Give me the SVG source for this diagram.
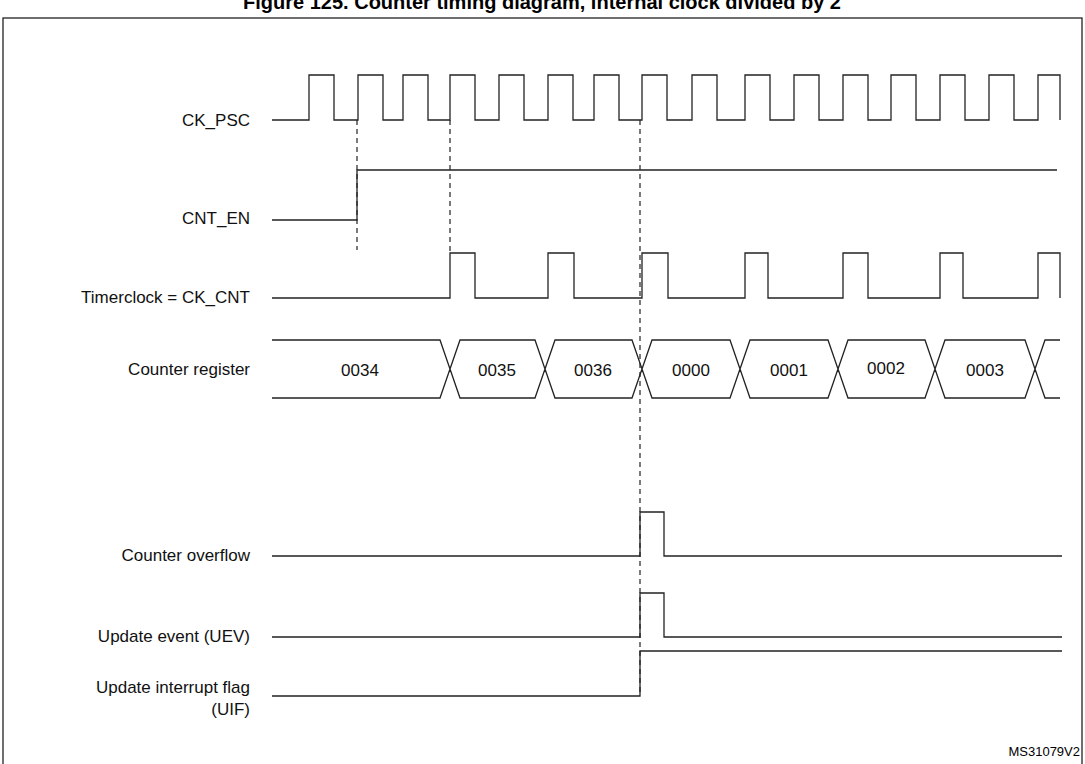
<svg xmlns="http://www.w3.org/2000/svg" width="1085" height="764" viewBox="0 0 1085 764">
<style>
.s{fill:none;stroke:#222;stroke-width:1.3}
.d{fill:none;stroke:#222;stroke-width:1.2;stroke-dasharray:5,4}
.l{font-family:"Liberation Sans",Arial,sans-serif;font-size:17px;fill:#111;text-anchor:end}
.v{font-family:"Liberation Sans",Arial,sans-serif;font-size:17px;fill:#111;text-anchor:middle}
</style>
<rect width="1085" height="764" fill="#fff"/>
<text x="542" y="9" font-family="Liberation Sans,Arial,sans-serif" font-size="20" font-weight="bold" text-anchor="middle">Figure 125. Counter timing diagram, internal clock divided by 2</text>
<rect x="3" y="18" width="1079" height="760" fill="none" stroke="#222" stroke-width="1.3"/>
<g id="labels">
<text class="l" x="250" y="126">CK_PSC</text>
<text class="l" x="250" y="224">CNT_EN</text>
<text class="l" x="250" y="303">Timerclock = CK_CNT</text>
<text class="l" x="250" y="375">Counter register</text>
<text class="l" x="250" y="561">Counter overflow</text>
<text class="l" x="250" y="642">Update event (UEV)</text>
<text class="l" x="250" y="693">Update interrupt flag</text>
<text class="l" x="250" y="715">(UIF)</text>
<text x="1080" y="756" font-family="Liberation Sans,Arial,sans-serif" font-size="13" text-anchor="end">MS31079V2</text>
</g>
<g id="connectors">
<path class="d" d="M357 120V250M450 120V253M640 120V696"/>
</g>
<g id="ck_psc"><path class="s" d="M272 120H309V75H334V120H358V75H383V120H403V75H428V120H450V75H475V120H499V75H524V120H548V75H573V120H594V75H619V120H642V75H667V120H692V75H717V120H745V75H770V120H794V75H819V120H843V75H868V120H891V75H916V120H940V75H965V120H989V75H1014V120H1038V75H1060V120"/></g>
<g id="cnt_en"><path class="s" d="M272 220H357V170H1057"/></g>
<g id="ck_cnt"><path class="s" d="M272 298H450V253H475V298H548V253H574V298H642V253H668V298H745V253H768V298H843V253H868V298H940V253H963V298H1038V253H1060V298"/></g>
<g id="counter">
<path class="s" d="M272 340H440L450 369L440 398H272M460 340H535L545 369L535 398H460L450 369ZM555 340H632L642 369L632 398H555L545 369ZM652 340H730L740 369L730 398H652L642 369ZM750 340H828L838 369L828 398H750L740 369ZM848 340H925L935 369L925 398H848L838 369ZM945 340H1025L1035 369L1025 398H945L935 369ZM1060 340H1045L1035 369L1045 398H1060"/>
<text class="v" x="360" y="376">0034</text>
<text class="v" x="497" y="376">0035</text>
<text class="v" x="593" y="376">0036</text>
<text class="v" x="691" y="376">0000</text>
<text class="v" x="789" y="376">0001</text>
<text class="v" x="886" y="374">0002</text>
<text class="v" x="985" y="376">0003</text>
</g>
<g id="overflow"><path class="s" d="M272 556H640V512H664V556H1062"/></g>
<g id="uev"><path class="s" d="M272 637H640V593H664V637H1062"/></g>
<g id="uif"><path class="s" d="M272 696H640V651H1062"/></g>
</svg>
